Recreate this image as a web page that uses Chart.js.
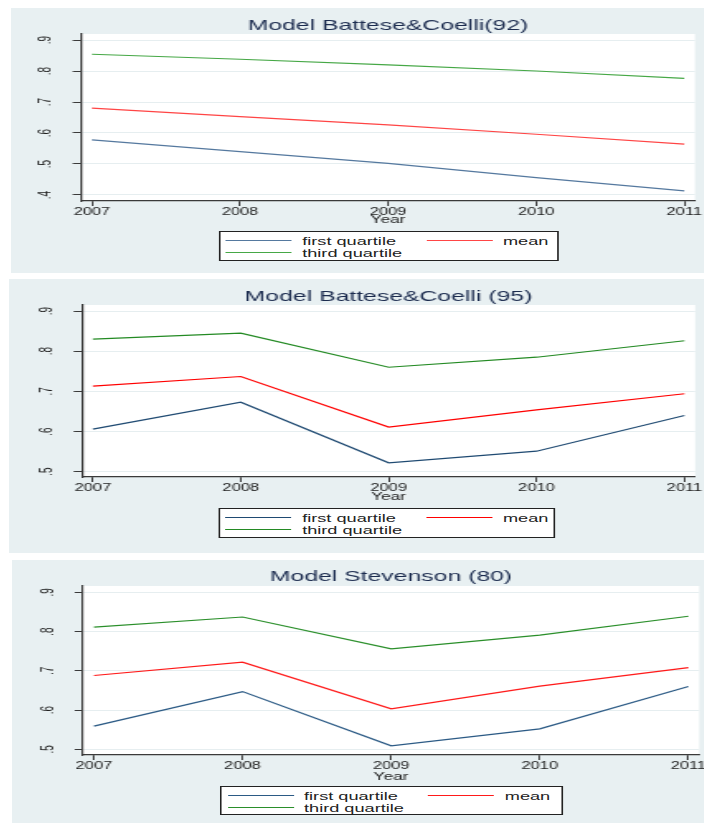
<!DOCTYPE html>
<html>
<head>
<meta charset="utf-8">
<script src="https://cdn.jsdelivr.net/npm/chart.js@4.4.1/dist/chart.umd.min.js"></script>
<style>
  html, body { margin: 0; padding: 0; background: #fff; width: 704px; height: 824px; overflow: hidden; }
  .panel { position: absolute; width: 760px; background: #e8f0f2; }
  /* charts are drawn narrow and widened with scaleX, like the exported Stata graphs */
  .stretch { position: absolute; left: 0; top: 0; width: 440px; height: 100%; transform: scaleX(1.65); transform-origin: 0 0; }
  .stretch canvas { position: absolute; left: 0; top: 0; }
  .legend { position: absolute; box-sizing: border-box; background: #fff; border: 1px solid #222;
            padding: 2.7px 0 0 3.8px; font: 11px "Liberation Sans", Arial, sans-serif; color: #222; }
  .legend .row { display: flex; align-items: center; height: 12px; }
  .legend .sw { flex: none; width: 40px; height: 0; border-top: 1.2px solid; margin-right: 6.2px; }
  .legend .lb { flex: none; width: 75.5px; white-space: nowrap; line-height: 12px; }
</style>
</head>
<body>
<div class="panel" id="p1"><div class="stretch"><canvas id="c1" width="440" height="265"></canvas></div></div>
<div class="panel" id="p2"><div class="stretch"><canvas id="c2" width="440" height="274"></canvas></div></div>
<div class="panel" id="p3"><div class="stretch"><canvas id="c3" width="440" height="263"></canvas></div></div>
<script>
const years = [2007, 2008, 2009, 2010, 2011];
const seriesNames = ['first quartile', 'mean', 'third quartile'];

// Battese & Coelli (1992)
const bc92First = [0.578, 0.540, 0.502, 0.456, 0.413];
const bc92Mean = [0.680, 0.653, 0.626, 0.596, 0.564];
const bc92Third = [0.854, 0.838, 0.820, 0.800, 0.776];

// Battese & Coelli (1995)
const bc95First = [0.606, 0.673, 0.522, 0.551, 0.640];
const bc95Mean = [0.713, 0.737, 0.611, 0.654, 0.694];
const bc95Third = [0.830, 0.845, 0.760, 0.785, 0.826];

// Stevenson (1980)
const stevFirst = [0.559, 0.647, 0.509, 0.552, 0.660];
const stevMean = [0.688, 0.722, 0.603, 0.661, 0.708];
const stevThird = [0.811, 0.837, 0.756, 0.791, 0.839];

const yTicksWide = [0.4, 0.5, 0.6, 0.7, 0.8, 0.9];
const yTicks = [0.5, 0.6, 0.7, 0.8, 0.9];

const FONT = '"Liberation Sans", Arial, sans-serif';
const AXIS = '#3a3a3a';
const TEXT = '#222';

const panels = [
  {
    box: 'p1', canvas: 'c1', left: 11, top: 8, height: 265,
    title: 'Model Battese&Coelli(92)', titlePad: { top: 10.5, bottom: 0.5 },
    series: [bc92First, bc92Mean, bc92Third],
    colors: ['#55799f', '#ff4545', '#46a846'],
    ticks: yTicksWide, yMin: 0.3806, yMax: 0.9194,
    axisW: 42.4, axisH: 72, padRight: 25.5, yearPad: 46.7,
    legend: { left: 125.5, top: 223, width: 206, height: 30 }
  },
  {
    box: 'p2', canvas: 'c2', left: 9, top: 279, height: 274,
    title: 'Model Battese&Coelli (95)', titlePad: { top: 10.5, bottom: 0.5 },
    series: [bc95First, bc95Mean, bc95Third],
    colors: ['#1f4a72', '#ff0000', '#238a23'],
    ticks: yTicks, yMin: 0.4868, yMax: 0.915,
    axisW: 44.2, axisH: 76, padRight: 24.2, yearPad: 49.2,
    legend: { left: 126.7, top: 229, width: 204, height: 30 }
  },
  {
    box: 'p3', canvas: 'c3', left: 12, top: 560, height: 263,
    title: 'Model Stevenson (80)', titlePad: { top: 9.5, bottom: 1.5 },
    series: [stevFirst, stevMean, stevThird],
    colors: ['#2b5a85', '#ff1a1a', '#2a8f2a'],
    ticks: yTicks, yMin: 0.4855, yMax: 0.916,
    axisW: 43, axisH: 68, padRight: 23.6, yearPad: 39.2,
    legend: { left: 126, top: 226, width: 208, height: 29 }
  }
];

// white plot region behind the grid and lines
const plotBackground = {
  id: 'plotBackground',
  beforeDraw(chart) {
    const { ctx, chartArea: a } = chart;
    ctx.save();
    ctx.fillStyle = '#fff';
    ctx.fillRect(a.left, a.top, a.right - a.left, a.bottom - a.top);
    ctx.restore();
  }
};

function buildLegend(chart, cfg) {
  const ds = chart.data.datasets;
  const div = document.createElement('div');
  div.className = 'legend';
  div.style.left = cfg.legend.left + 'px';
  div.style.top = cfg.legend.top + 'px';
  div.style.width = cfg.legend.width + 'px';
  div.style.height = cfg.legend.height + 'px';
  [[ds[0], ds[1]], [ds[2]]].forEach(items => {
    const row = document.createElement('div');
    row.className = 'row';
    items.forEach(d => {
      const sw = document.createElement('span');
      sw.className = 'sw';
      sw.style.borderTopColor = d.borderColor;
      const lb = document.createElement('span');
      lb.className = 'lb';
      lb.textContent = d.label;
      row.appendChild(sw);
      row.appendChild(lb);
    });
    div.appendChild(row);
  });
  chart.canvas.parentNode.appendChild(div);
}

function drawPanel(cfg) {
  const box = document.getElementById(cfg.box);
  box.style.left = cfg.left + 'px';
  box.style.top = cfg.top + 'px';
  box.style.height = cfg.height + 'px';

  const datasets = cfg.series.map((values, i) => ({
    label: seriesNames[i],
    data: years.map((yr, j) => ({ x: yr, y: values[j] })),
    borderColor: cfg.colors[i],
    backgroundColor: cfg.colors[i],
    borderWidth: 1.2,
    pointRadius: 0,
    tension: 0,
    fill: false
  }));

  const chart = new Chart(document.getElementById(cfg.canvas), {
    type: 'line',
    data: { datasets },
    options: {
      responsive: false,
      animation: false,
      layout: { padding: { left: 0, right: cfg.padRight, top: 0, bottom: 0 } },
      plugins: {
        legend: { display: false },
        tooltip: { enabled: false },
        title: {
          display: true,
          text: cfg.title,
          fullSize: false,
          color: '#1c2c4f',
          font: { family: FONT, size: 15, weight: 'normal', lineHeight: 1 },
          padding: cfg.titlePad
        }
      },
      scales: {
        x: {
          type: 'linear',
          min: 2006.926,
          max: 2011.072,
          afterBuildTicks: s => { s.ticks = years.map(v => ({ value: v })); },
          afterFit: s => { s.height = cfg.axisH; },
          ticks: {
            color: TEXT,
            padding: 0.5,
            maxRotation: 0,
            font: { family: FONT, size: 10 },
            callback: v => String(v)
          },
          grid: { drawOnChartArea: false, drawTicks: true, tickLength: 5, tickColor: AXIS, tickWidth: 1 },
          border: { display: true, color: AXIS, width: 1.2 },
          title: {
            display: true,
            text: 'Year',
            color: TEXT,
            font: { family: FONT, size: 10.5 },
            padding: { top: 0, bottom: cfg.yearPad }
          }
        },
        y: {
          min: cfg.yMin,
          max: cfg.yMax,
          afterBuildTicks: s => { s.ticks = cfg.ticks.map(v => ({ value: v })); },
          afterFit: s => { s.width = cfg.axisW; },
          ticks: {
            color: TEXT,
            padding: 12,
            minRotation: 90,
            maxRotation: 90,
            crossAlign: 'center',
            font: { family: FONT, size: 10 },
            callback: v => v.toFixed(1).replace(/^0/, '')
          },
          grid: { color: '#e6eef0', lineWidth: 1, drawTicks: true, tickLength: 5, tickColor: AXIS, tickWidth: 1 },
          border: { display: true, color: AXIS, width: 1.2 }
        }
      }
    },
    plugins: [plotBackground]
  });

  buildLegend(chart, cfg);
}

panels.forEach(drawPanel);
</script>
</body>
</html>
